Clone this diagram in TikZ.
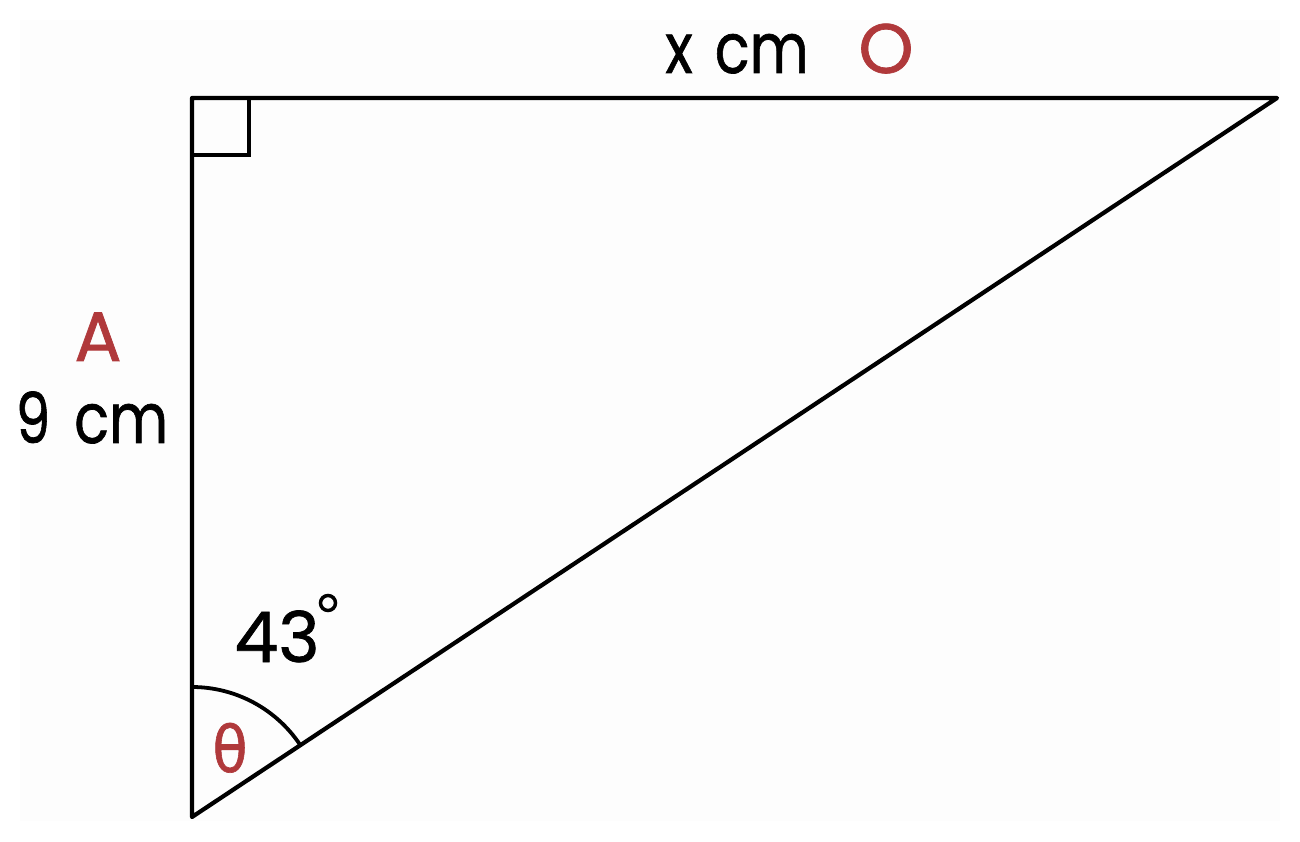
\documentclass[tikz,border=0pt]{standalone}
\usepackage{fontspec}
\setmainfont{Poppins}[FakeBold=1]
\newfontfamily\greekfont{DejaVu Sans}[FakeBold=1]
\definecolor{lblred}{HTML}{B0393B}
\definecolor{bgpanel}{HTML}{FDFDFD}
\tikzset{
  edge/.style={line width=4.2pt, line cap=round, line join=round},
  lbl/.style={anchor=base, inner sep=0pt, font=\fontsize{70}{80}\selectfont},
  redlbl/.style={lbl, text=lblred}
}
\newcommand{\nar}[1]{\scalebox{0.82}[1]{#1}}
\begin{document}
\begin{tikzpicture}[x=1pt,y=1pt]
\useasboundingbox (0,0) rectangle (1300,841);
\fill[white] (0,0) rectangle (1300,841);
\fill[bgpanel] (20,20) rectangle (1280,821);
\coordinate (B) at (192,24);
\coordinate (C) at (192,743);
\coordinate (R) at (1277,743);
\draw[edge] (B) -- (C) -- (R) -- cycle;
\draw[line width=3.8pt] (192,686) -- (249,686) -- (249,743);
\draw[line width=3.8pt] (192,154) arc[start angle=90, end angle=33.53, radius=130];
\node[lbl] (xcm) at (737,768) {\nar{x}\hspace{22pt}\nar{cm}};
\node[redlbl] (O) at (886,768) {O};
\node[redlbl] (A) at (98,480) {A};
\node[lbl] (ninecm) at (92,398) {\scalebox{0.78}[1]{9}\hspace{24pt}\nar{cm}};
\node[lbl] (ang) at (277,179) {43};
\draw[line width=3.5pt] (328,238) circle[radius=7.5];
\node[redlbl, font=\greekfont\fontsize{64}{80}\selectfont] (theta) at (230,69) {\scalebox{0.9}[1]{θ}};
\end{tikzpicture}
\end{document}
